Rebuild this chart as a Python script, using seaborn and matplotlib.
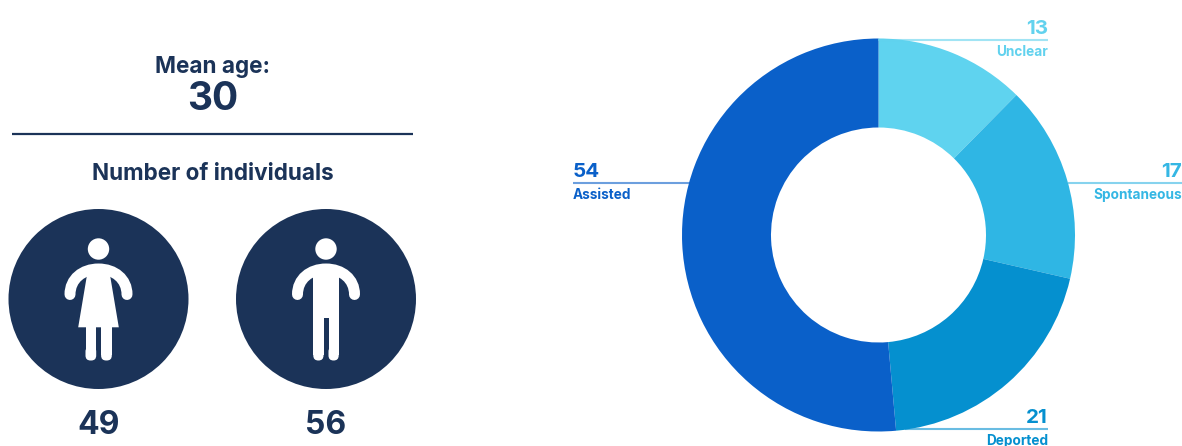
import matplotlib
matplotlib.use("Agg")
import matplotlib.pyplot as plt
import seaborn as sns
from matplotlib.path import Path
from matplotlib.patches import Circle, PathPatch, Polygon, FancyBboxPatch, Rectangle

sns.set_theme(style="white", rc={"figure.facecolor": "white", "axes.facecolor": "none"})
plt.rcParams["font.family"] = ["Inter", "Open Sans", "DejaVu Sans"]

# Return categories, clockwise from twelve o'clock
categories = ["Unclear", "Spontaneous", "Deported", "Assisted"]
counts = [13, 17, 21, 54]
ring_colors = ["#5FD3EF", "#2FB6E4", "#0590CF", "#0A60C9"]
label_colors = ["#62D2EE", "#35B7E4", "#0590CF", "#0A60C9"]

# Individuals by sex and headline figure
sex_counts = [49, 56]
mean_age = 30
NAVY = "#1B3358"

W, H = 1182, 446
fig = plt.figure(figsize=(W / 100, H / 100), dpi=100)

# Donut
cx, cy, radius, inner = 878.5, 235, 196.5, 107.5
ax = fig.add_axes([(cx - radius) / W, 1 - (cy + radius) / H, 2 * radius / W, 2 * radius / H])
ax.pie(counts, colors=sns.color_palette(ring_colors), startangle=90, counterclock=False,
       radius=1, wedgeprops=dict(width=1 - inner / radius, linewidth=0))
ax.set_xlim(-1, 1)
ax.set_ylim(-1, 1)
sns.despine(ax=ax, left=True, bottom=True)

# Overlay in pixel units for annotations and pictograms
ov = fig.add_axes([0, 0, 1, 1], zorder=3)
ov.set_xlim(0, W)
ov.set_ylim(H, 0)
ov.axis("off")


def callout(i, x0, x1, y, anchor, ha):
    ov.plot([x0, x1], [y, y], color=label_colors[i], lw=1.5, alpha=0.6, solid_capstyle="butt")
    ov.text(anchor, y - 6, str(counts[i]), color=label_colors[i], fontsize=14.8,
            fontweight="bold", ha=ha, va="baseline")
    ov.text(anchor, y + 16, categories[i], color=label_colors[i], fontsize=9.8,
            fontweight="bold", ha=ha, va="baseline")


callout(0, 878, 1048, 40, 1048, "right")
callout(1, 1068, 1182, 183, 1182, "right")
callout(2, 905, 1048, 429, 1048, "right")
callout(3, 573, 690, 183, 573, "left")

# Left-hand summary
ov.text(212.5, 73, "Mean age:", color=NAVY, fontsize=16.2, fontweight="bold", ha="center", va="baseline")
ov.text(212.5, 110, str(mean_age), color=NAVY, fontsize=28, fontweight="bold", ha="center", va="baseline")
ov.plot([12, 413], [133.5, 133.5], color=NAVY, lw=1.6, solid_capstyle="butt")
ov.text(212.5, 180, "Number of individuals", color=NAVY, fontsize=16.2, fontweight="bold",
        ha="center", va="baseline")


def leg(x, top, width, bottom=360.5):
    # Square at the top, rounded at the foot
    ov.add_patch(Rectangle((x, top), width, bottom - top - 6, fc="white", ec="none", zorder=5))
    ov.add_patch(FancyBboxPatch((x, bottom - 14), width, 14,
                                boxstyle="round,pad=0,rounding_size=5", mutation_scale=1,
                                fc="white", ec="none", lw=0, zorder=5))


def pictogram(x, woman):
    ov.add_patch(Circle((x, 299), 90, fc=NAVY, ec="none", zorder=4))
    ov.add_patch(Circle((x, 249), 10.7, fc="white", ec="none", zorder=5))
    # Shoulders and arms as one thick rounded stroke
    arms = Path([(x - 28.5, 294.5), (x - 28.5, 279), (x - 16, 269), (x, 269),
                 (x + 16, 269), (x + 28.5, 279), (x + 28.5, 294.5)],
                [Path.MOVETO, Path.CURVE4, Path.CURVE4, Path.CURVE4,
                 Path.CURVE4, Path.CURVE4, Path.CURVE4])
    ov.add_patch(PathPatch(arms, fc="none", ec="white", lw=7.9, capstyle="round", zorder=5))
    if woman:
        ov.add_patch(Polygon([(x - 11, 272), (x + 11, 272), (x + 20.3, 327.3), (x - 20.3, 327.3)],
                             fc="white", ec="none", zorder=5))
        leg(x - 13, 325, 10.7)
        leg(x + 2.6, 325, 10.7)
    else:
        ov.add_patch(Polygon([(x - 12.7, 272), (x + 12.7, 272), (x + 12.7, 318), (x - 12.7, 318)],
                             fc="white", ec="none", zorder=5))
        leg(x - 12.7, 316, 10.2)
        leg(x + 2.5, 316, 10.2)


for x, n, woman in zip([98.5, 326], sex_counts, [True, False]):
    pictogram(x, woman)
    ov.text(x, 434, str(n), color=NAVY, fontsize=23, fontweight="bold", ha="center", va="baseline")

fig.savefig("out.png", dpi=100, facecolor="white")
